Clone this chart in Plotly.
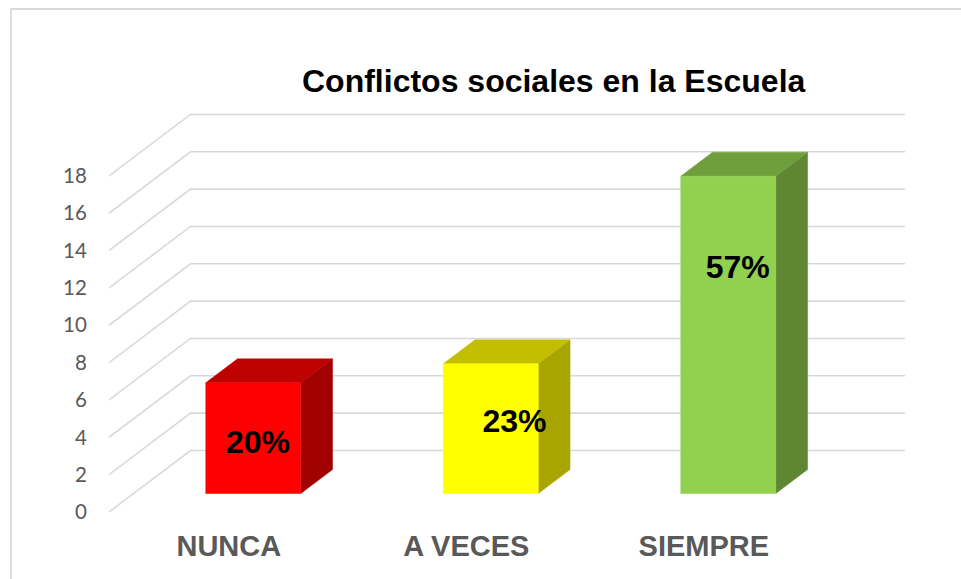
import plotly.graph_objects as go

title = "Conflictos sociales en la Escuela"
categories = ["NUNCA", "A VECES", "SIEMPRE"]
values = [5.93, 6.95, 17.0]
percent_labels = ["20%", "23%", "57%"]
y_ticks = [0, 2, 4, 6, 8, 10, 12, 14, 16, 18]
front_colors = ["#FF0000", "#FFFF00", "#92D050"]
top_colors = ["#BE0000", "#C4BE00", "#6F9E3C"]
side_colors = ["#A00000", "#A8A400", "#5F8632"]

# pixel frame of the plot area
L, R, T, B = 109, 905, 100, 512
W, H = 961, 579
PX_PER_CAT = 237.5
PX_PER_UNIT = 18.67
X0_PX = 228.8  # pixel of category 0 on the front plane

x_min = (L - X0_PX) / PX_PER_CAT
x_max = (R - X0_PX) / PX_PER_CAT
y_max = (B - T) / PX_PER_UNIT

# oblique projection: depth 0 = front plane, depth 1 = back wall
DX = 81.5 / PX_PER_CAT
DY = 61.5 / PX_PER_UNIT


def proj(x, v, d):
    return x + d * DX, v + d * DY


BAR_HALF = 47.5 / PX_PER_CAT
D_FRONT = 0.30
D_BACK = 0.30 + 0.39


def poly(pts, color):
    xs, ys = zip(*pts)
    return go.Scatter(x=list(xs) + [xs[0]], y=list(ys) + [ys[0]], mode="lines", fill="toself",
                      fillcolor=color, line=dict(color=color, width=0.5), hoverinfo="skip",
                      showlegend=False, cliponaxis=False)


fig = go.Figure()

# walls grid
wall_end = x_max
for t in y_ticks:
    x0, y0 = proj(x_min, t, 0)
    x1, y1 = proj(x_min, t, 1)
    fig.add_trace(go.Scatter(x=[x0, x1, wall_end], y=[y0, y1, y1], mode="lines",
                             line=dict(color="#D9D9D9", width=1.6), hoverinfo="skip",
                             showlegend=False, cliponaxis=False))

# columns
for i, v in enumerate(values):
    xl, xr = i - BAR_HALF, i + BAR_HALF
    front = [proj(xl, 0, D_FRONT), proj(xr, 0, D_FRONT), proj(xr, v, D_FRONT), proj(xl, v, D_FRONT)]
    top = [proj(xl, v, D_FRONT), proj(xr, v, D_FRONT), proj(xr, v, D_BACK), proj(xl, v, D_BACK)]
    side = [proj(xr, 0, D_FRONT), proj(xr, 0, D_BACK), proj(xr, v, D_BACK), proj(xr, v, D_FRONT)]
    fig.add_trace(poly(side, side_colors[i]))
    fig.add_trace(poly(top, top_colors[i]))
    fig.add_trace(poly(front, front_colors[i]))

# data labels, placed from the reference
label_x = [0.123, 1.203, 2.143]
label_y = [3.57, 4.71, 12.95]
fig.add_trace(go.Scatter(x=label_x, y=label_y, mode="text", text=percent_labels,
                         textposition="middle center", showlegend=False, hoverinfo="skip",
                         textfont=dict(family="Liberation Sans", size=32, color="#000000", weight="bold"),
                         cliponaxis=False))

fig.update_layout(
    width=W, height=H, autosize=False,
    margin=dict(l=L, r=W - R, t=T, b=H - B),
    paper_bgcolor="white", plot_bgcolor="rgba(0,0,0,0)",
    showlegend=False,
    xaxis=dict(range=[x_min, x_max], tickmode="array", tickvals=[0, 1, 2], ticktext=categories,
               showgrid=False, zeroline=False, showline=False, ticks="outside", ticklen=8,
               tickcolor="rgba(0,0,0,0)",
               tickfont=dict(family="Liberation Sans", size=29, color="#595959", weight="bold")),
    yaxis=dict(range=[0, y_max], tickmode="array", tickvals=y_ticks,
               showgrid=False, zeroline=False, showline=False, ticks="outside", ticklen=17,
               tickcolor="rgba(0,0,0,0)",
               tickfont=dict(family="Lato", size=20.5, color="#595959")),
    annotations=[dict(text="<b>" + title + "</b>", xref="paper", yref="paper",
                      x=(554 - L) / (R - L), y=(B - 81) / (B - T), xanchor="center", yanchor="middle",
                      showarrow=False, font=dict(family="Liberation Sans", size=32, color="#000000"))],
    shapes=[dict(type="rect", xref="paper", yref="paper",
                 x0=(11 - L) / (R - L), x1=(975 - L) / (R - L),
                 y0=(B - 595) / (B - T), y1=(B - 9) / (B - T),
                 line=dict(color="#D9D9D9", width=1.8), layer="below")],
)

fig.write_html("out.html", config={"displayModeBar": False},
               post_script="document.body.style.margin='0';document.body.style.overflow='hidden';")
